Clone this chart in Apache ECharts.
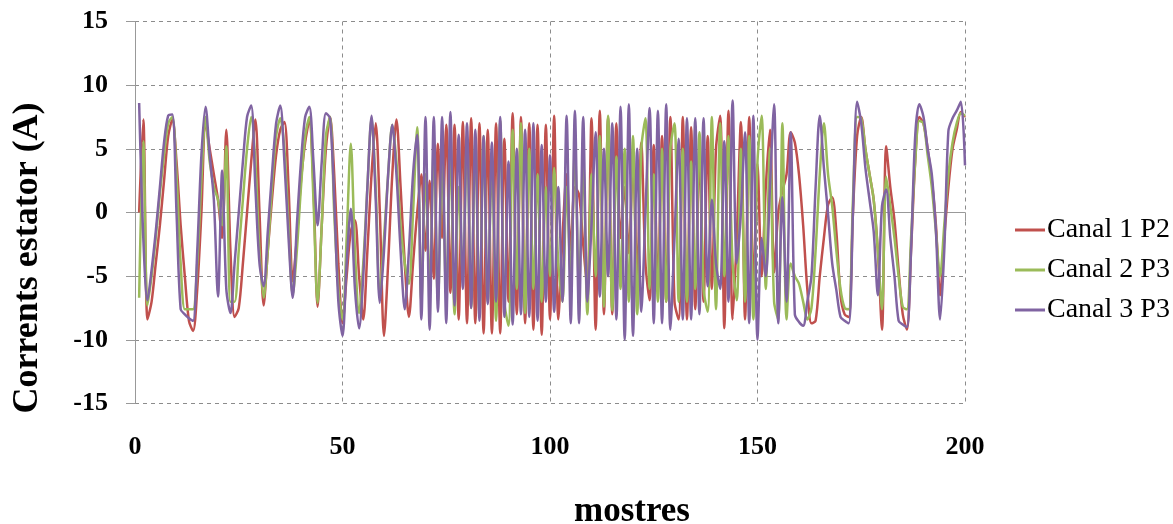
<!DOCTYPE html>
<html>
<head>
<meta charset="utf-8">
<title>Corrents estator</title>
<script src="https://cdn.jsdelivr.net/npm/echarts@6/dist/echarts.min.js"></script>
<style>
    html, body { margin: 0; padding: 0; background: #fff; }
    #chart { width: 1173px; height: 524px; }
</style>
</head>
<body>
<div id="chart"></div>
<script>
/* ===== data (samples 1..200) ===== */
const seriesNames = ["Canal 1 P2", "Canal 2 P3", "Canal 3 P3"];
const xTicks = [0, 50, 100, 150, 200];
const yTicks = [-15, -10, -5, 0, 5, 10, 15];

const canal1 = [
    0, 7.3, -8.4, -7, -4, -1, 2.5, 6, 7.3, 4,
    -1, -5, -8.5, -9.3, -6, 0, 7.0, 5, 3, 1,
    -2, 6.5, -3, -8.2, -7.5, -4, 0, 4, 7.3, 0,
    -7.3, -3, 1, 4.5, 6.5, 7.1, 2, -5.4, -2, 2.5,
    5.5, 7.2, 2, -7.4, -1, 5, 7.5, 3, -4, -8.7,
    -5, -1.5, -0.6, -5, -8.4, -3, 3, 7.0, 0, -9.7,
    -4, 3, 7.3, 2, -4, -8.2, -4, 0, 3, -3,
    2.5, -5.2, 5.4, -2, 6.9, -6.3, 6.9, -8.4, 7.1, -8.7,
    7.4, -8.7, 7.0, -9.5, 6.5, -9.5, 7.0, -9.5, 5.8, -7,
    7.8, -8, 7.5, -8.7, 7.0, -9.2, 6.9, -9.6, 6.9, -8.4,
    7.6, -8.4, -2, 3, -3, 2, 1.4, -2.5, -6, 7.4,
    -9.2, 8.0, -8, 7.5, -8, 7, -2, 2, -3.2, 4,
    -5, 5.5, -4, -6.9, 5.3, -6, 6, -7, 7.5, -7,
    -8.4, 7.5, -8.4, 6.7, -7.6, 5, -7, 6, -6, 5,
    7.6, -9.1, 8.0, -8.4, -2, 7.1, -8.4, 7.5, -6, 3.8,
    -5, 2, 6.5, -4.7, 0, 1.7, 3, 6.3, 5.5, 3,
    -1, -6, -8.7, -8.5, -5, -2, 0.6, 1.2, -1.5, -6.5,
    -8, -8.2, 0, 6, 7.5, 5, 3, 1, -3, -9.2,
    5.2, 2, -0.6, -4.5, -8, -9.2, -3, 4, 7.5, 7,
    5, 2.5, -1, -6.5, -2, 2, 5, 6.5, 7.9, 7.5
];

const canal2 = [
    -6.7, 5.6, -7.3, -5, -2, 1.5, 4.5, 7, 7.5, 3,
    -4, -7.6, -7.6, -7.6, -4, 2.5, 7.5, 4, 2, 1,
    -1, 5.2, -7, -7, -3, 1, 5, 7.5, 4, -3,
    -6.7, -3, 2, 6, 7.4, 5, -1, -6.5, -3, 2,
    6, 7.5, 1, -7.1, -1, 6, 7.5, 0, -6, -8.4,
    -2, 5.4, -3, -7.9, -4, 2, 7.4, 2, -6.6, -2,
    3, 6.9, 4, -1, -4, -5.6, 0, 6.7, -7, 3,
    -6, 5, -7, 4, -6.5, 5, -8, 2, -5, 6,
    -7.5, 5.5, -8, 6, -7, 4, -8.5, 7.2, -7, -8.9,
    6.5, -6, 7.0, -7.9, 5, -6, 3, -7, 2, -5,
    3.5, -4, -7, 2, -5, 5, -6, 4, -8, 3,
    -5, 6, -7.4, 7.6, -7.7, 4.4, -6, 5, -7, 6,
    -8, 5, 7.4, -6, 3, -7, 5, -7, 5, 7.0,
    -7, 5, -7, 4, -6, 6.3, -6, -7.8, 7.5, -7.6,
    7.0, -5, 6, -4, -6.9, 5, -7, 6, -8.4, 4,
    7.6, -6, 5, -7, -8.4, 7.0, -8.4, -4, -5, -5.6,
    -7, -8.4, -7.5, -3, 3, 7.0, 3, 0.5, -3, -6,
    -7.5, -7.6, 1, 7.5, 7.4, 5, 3, 1, -3, -7.6,
    2.8, 0.5, -2, -5, -7.4, -7.6, -2, 4, 7.2, 7,
    4.5, 2, -1.5, -5, -1, 3, 5.5, 7, 7.8, 7.6
];

const canal3 = [
    8.6, -2, -6.9, -4.5, -1.5, 2, 5.5, 7.6, 7.7, 0,
    -7.6, -8.0, -8.3, -8.5, -3, 4.5, 8.3, 4.5, 1, -6.6,
    3.3, -6, -7.9, -4, 0, 4, 7.5, 8.4, 2, -4,
    -5.8, -1.5, 3, 7, 8.4, 4, -2, -6.7, -1, 4,
    7.5, 8.3, 4, -1, 4, 7.8, 7.4, 1, -7, -9.7,
    -4, 0.3, -6, -9.1, -5, 2, 7.6, 1, -7.1, -3,
    3, 6.9, 3, -3, -7.6, -3, 3, 6.1, -8.4, 7.5,
    -9.2, 7.5, -7.8, 7.5, -8.7, 7.9, -7.3, 6.1, -6, 7,
    -7.5, 6.5, -8.5, 6, -7.2, 5.5, -7, 7.5, -8.2, 4,
    -8.8, 5, -8, 6.5, -8.2, 7.0, -8.5, 5.3, -7, 4.5,
    -7.8, 2, -7, 7.6, -8.7, 8.0, -8.7, 7.5, -7, -1,
    6.3, -6.6, 5, -5, 7, -8.4, 8.3, -10, 8.5, -9.7,
    5, -7.8, 0, 8.2, -8.7, 8.0, -8.7, 8.5, -9.2, -2,
    5.8, -8.4, 7.4, -8.4, 7.4, -8, 7.4, -5.8, 1, -4,
    -6, 5.6, -7, 8.8, -4, 0, 6.3, -8.7, 7.6, -10,
    -2, -5, 2, 8.5, -8.7, 1.2, -7, 6.3, -8, -8.6,
    -8.9, -7, -5, 2, 7.6, 3.5, -0.1, -4, -6.1, -8.2,
    -8.5, -8.7, 0, 8.7, 7, 3.5, 1, -1.5, -6.5, 0.5,
    1.8, -2, -5, -8.5, -8.8, -9.0, -3, 6, 8.5, 7.5,
    5, 3, -1.5, -8.4, -3, 6.4, 7.4, 8, 8.7, 3.7
];

const colors = ["#C0504D", "#9BBB59", "#8064A2"];

/* ===== chart ===== */
function toPoints(arr) { return arr.map((v, i) => [i + 1, v]); }

const serif = "'Liberation Serif', 'DejaVu Serif', serif";
const chart = echarts.init(document.getElementById("chart"));

const option = {
    animation: false,
    backgroundColor: "#fff",
    grid: { left: 135, top: 21.5, width: 830, height: 382, containLabel: false },
    legend: {
        orient: "vertical", left: 1010, top: 209,
        itemWidth: 30, itemHeight: 3, itemGap: 8,
        icon: "rect",
        data: seriesNames,
        textStyle: { fontFamily: serif, fontSize: 28, color: "#000", lineHeight: 32, padding: [0, 0, 0, -3] }
    },
    xAxis: {
        type: "value", min: xTicks[0], max: xTicks[xTicks.length - 1], interval: 50,
        axisLine: { show: true, lineStyle: { color: "#999", width: 1 } },
        axisTick: { show: true, length: 9, lineStyle: { color: "#999" } },
        axisLabel: { margin: 31, fontFamily: serif, fontSize: 26, fontWeight: "bold", color: "#000" },
        splitLine: { show: true, lineStyle: { color: "#8c8c8c", type: [4, 4], width: 1 } }
    },
    yAxis: {
        type: "value", min: yTicks[0], max: yTicks[yTicks.length - 1], interval: 5,
        axisLine: { show: true, onZero: false, lineStyle: { color: "#999", width: 1 } },
        axisTick: { show: true, length: 9, lineStyle: { color: "#999" } },
        axisLabel: { margin: 27, fontFamily: serif, fontSize: 26, fontWeight: "bold", color: "#000" },
        splitLine: { show: true, lineStyle: { color: "#8c8c8c", type: [4, 4], width: 1 } }
    },
    graphic: [
        {   // y axis title
            type: "text", x: 28, y: 258, rotation: Math.PI / 2,
            style: { text: "Corrents estator (A)", font: "bold 36px " + serif, fill: "#000",
                     align: "center", verticalAlign: "middle" }
        },
        {   // x axis title
            type: "text", x: 632, y: 512,
            style: { text: "mostres", font: "bold 35px " + serif, fill: "#000",
                     align: "center", verticalAlign: "middle" }
        }
    ],
    series: [canal1, canal2, canal3].map((arr, k) => ({
        name: seriesNames[k],
        type: "line",
        data: toPoints(arr),
        smooth: 0.3,
        showSymbol: false,
        symbol: "none",
        color: colors[k],
        lineStyle: { color: colors[k], width: 2.5 },
        z: 2 + k
    }))
};

chart.setOption(option);
</script>
</body>
</html>
